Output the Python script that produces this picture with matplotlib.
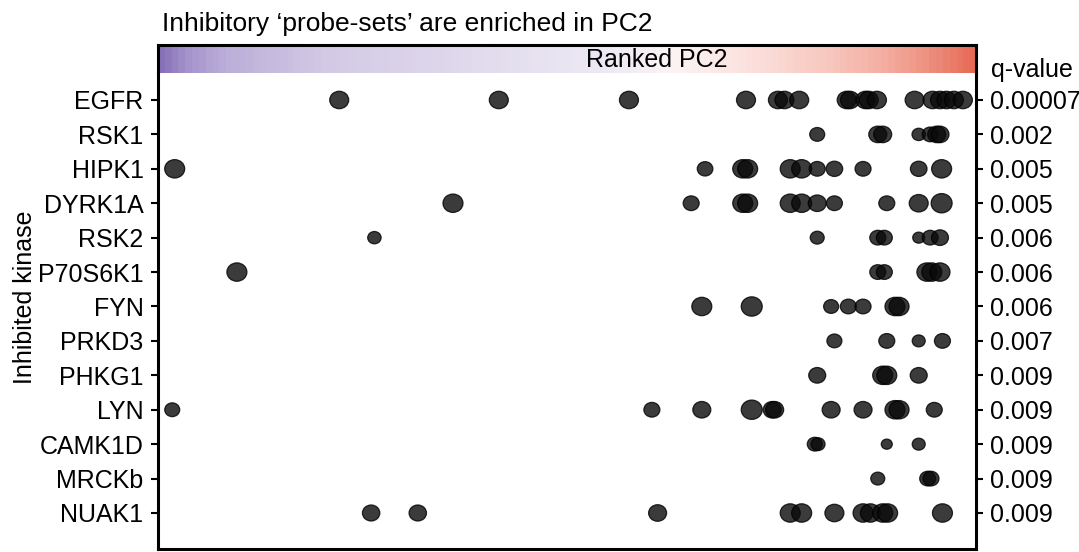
import matplotlib
matplotlib.use("Agg")
import matplotlib.pyplot as plt
import numpy as np
from matplotlib.colors import LinearSegmentedColormap
from matplotlib.path import Path
from matplotlib.transforms import Affine2D

plt.rcParams['font.family'] = ['Liberation Sans', 'DejaVu Sans']

# ---------------- data ----------------
kinases = ["EGFR", "RSK1", "HIPK1", "DYRK1A", "RSK2", "P70S6K1", "FYN",
           "PRKD3", "PHKG1", "LYN", "CAMK1D", "MRCKb", "NUAK1"]
qvalues = ["0.00007", "0.002", "0.005", "0.005", "0.006", "0.006", "0.006",
           "0.007", "0.009", "0.009", "0.009", "0.009", "0.009"]

# rank position along ranked PC2 (percentile, 0-100) and dot weight per probe-set
egfr_rank = [22.2, 41.7, 57.6, 71.9, 75.8, 76.6, 78.4, 84.2, 84.6, 86.5, 86.9, 87.9,
             92.5, 94.7, 95.6, 96.4, 97.3, 98.4]
egfr_w = [9.5] * 18
rsk1_rank = [80.6, 88.0, 88.6, 93.0, 94.4, 95.2, 95.6]
rsk1_w = [7.5, 9, 9, 6.7, 8, 9, 9]
hipk1_rank = [2.1, 66.9, 71.5, 72.1, 77.3, 78.7, 80.6, 82.7, 86.2, 93.0, 95.8]
hipk1_w = [10, 7.8, 10, 10, 10, 10, 8, 8.3, 8, 8.3, 10]
dyrk1a_rank = [36.1, 65.2, 71.5, 72.1, 77.3, 78.7, 80.6, 82.7, 89.1, 93.0, 95.8]
dyrk1a_w = [10, 8, 10, 10, 10, 10, 9, 8, 8, 9.5, 10.5]
rsk2_rank = [26.5, 80.6, 88.0, 88.8, 93.0, 94.4, 95.6]
rsk2_w = [6.7, 7, 8, 8, 6, 8, 8.5]
p70s6k1_rank = [9.7, 88.0, 88.8, 94.0, 94.6, 95.6]
p70s6k1_w = [10, 8, 8, 10, 10, 10]
fyn_rank = [66.5, 72.6, 82.3, 84.4, 86.2, 90.1, 90.6]
fyn_w = [10, 10.5, 7.5, 8, 8, 10, 10]
prkd3_rank = [82.7, 89.1, 93.0, 95.9]
prkd3_w = [7.5, 8, 6.5, 8]
phkg1_rank = [80.6, 88.6, 89.1, 93.0]
phkg1_w = [8.5, 10, 10, 8.5]
lyn_rank = [1.8, 60.4, 66.5, 72.6, 75.1, 75.4, 82.3, 86.2, 90.1, 90.6, 94.9]
lyn_w = [7.5, 8, 9, 10.5, 9, 9, 9, 9, 10, 10, 8]
camk1d_rank = [80.3, 80.7, 89.1, 93.0]
camk1d_w = [7.5, 7, 5.5, 6.5]
mrckb_rank = [88.0, 94.1, 94.5]
mrckb_w = [7, 8, 8]
nuak1_rank = [26.1, 31.8, 61.1, 77.3, 78.7, 82.7, 86.2, 87.1, 88.6, 89.2, 95.9]
nuak1_w = [8.7, 8.7, 9, 10, 10, 9.5, 10, 10, 10, 10, 10]

row_ranks = [egfr_rank, rsk1_rank, hipk1_rank, dyrk1a_rank, rsk2_rank, p70s6k1_rank,
             fyn_rank, prkd3_rank, phkg1_rank, lyn_rank, camk1d_rank, mrckb_rank, nuak1_rank]
row_weights = [egfr_w, rsk1_w, hipk1_w, dyrk1a_w, rsk2_w, p70s6k1_w,
               fyn_w, prkd3_w, phkg1_w, lyn_w, camk1d_w, mrckb_w, nuak1_w]

# ---------------- figure ----------------
W, H = 1079, 552
fig = plt.figure(figsize=(W / 100, H / 100), dpi=100)

ax_l, ax_r = 157.5 / W, 976 / W
ax_top, ax_bot = 1 - 73 / H, 1 - 549 / H
cb_top = 1 - 44.5 / H

ax = fig.add_axes([ax_l, ax_bot, ax_r - ax_l, ax_top - ax_bot])
cax = fig.add_axes([ax_l, ax_top, ax_r - ax_l, cb_top - ax_top])

FS = 18
# slightly wide elliptical dot
ellipse = Path.unit_circle().transformed(Affine2D().scale(1.0, 0.92))

for i, (rk, wt) in enumerate(zip(row_ranks, row_weights)):
    sizes = (np.array(wt) * 1.44) ** 2
    ax.scatter(rk, [i] * len(rk), s=sizes, c='#0a0a0a', alpha=0.8, marker=ellipse,
               edgecolors='#000000', linewidths=0.9, zorder=3)

ax.set_xlim(0, 100)
ax.set_ylim(12 + 1.046, -0.784)
ax.set_xticks([])
ax.set_yticks(range(len(kinases)))
ax.set_yticklabels(kinases, fontsize=FS)
ax.tick_params(axis='y', which='both', direction='out', length=5, width=1.5,
               pad=5, left=True, right=True, labelleft=True, labelright=False)
ax.spines['top'].set_visible(False)
for s in ['left', 'right', 'bottom']:
    ax.spines[s].set_linewidth(2.2)

# right q-value labels
ax2 = ax.twinx()
ax2.set_ylim(ax.get_ylim())
ax2.set_yticks(range(len(qvalues)))
ax2.set_yticklabels(qvalues, fontsize=FS)
ax2.tick_params(axis='y', direction='out', length=5, width=1.5, pad=5)
for s in ax2.spines.values():
    s.set_visible(False)

# ranked PC2 colour strip
cmap = LinearSegmentedColormap.from_list("pc2", [
    (0.00, '#8670b8'), (0.03, '#a593cb'), (0.08, '#bcafd9'), (0.20, '#d3c9e5'),
    (0.40, '#e2dcee'), (0.55, '#eeeaf4'), (0.63, '#fbf4f4'), (0.72, '#fce2df'),
    (0.82, '#f8c8c0'), (0.90, '#f3aa9d'), (0.96, '#ec8877'), (1.00, '#e66a55')])
grad = np.linspace(0, 1, 120)[None, :]
cax.imshow(grad, aspect='auto', cmap=cmap, extent=[0, 100, 0, 1], interpolation='nearest')
cax.set_xlim(0, 100)
cax.set_ylim(0, 1)
cax.set_xticks([])
cax.set_yticks([])
cax.spines['bottom'].set_visible(False)
for s in ['left', 'right', 'top']:
    cax.spines[s].set_linewidth(2.2)
cax.text(61.0, 0.22, "Ranked PC2", ha='center', va='baseline', fontsize=FS)

fig.text(162 / W, 1 - 31 / H, "Inhibitory \u2018probe-sets\u2019 are enriched in PC2",
         ha='left', va='baseline', fontsize=19)
fig.text(991 / W, 1 - 77.5 / H, "q-value", ha='left', va='baseline', fontsize=FS)
fig.text(25 / W, 1 - 297 / H, "Inhibited kinase", ha='center', va='center',
         rotation=90, fontsize=FS)

fig.savefig("out.png", dpi=100)
